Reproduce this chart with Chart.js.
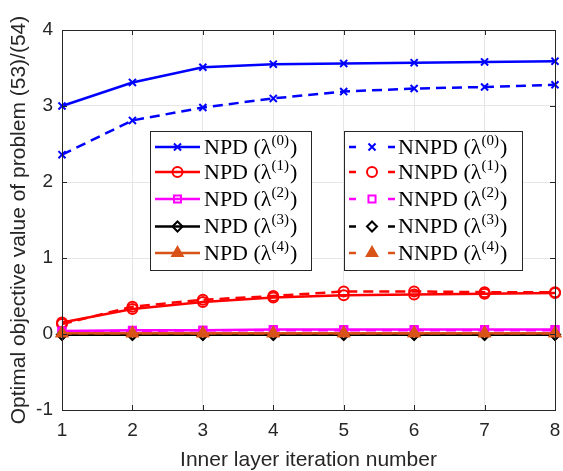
<!DOCTYPE html>
<html><head><meta charset="utf-8">
<script src="https://cdn.jsdelivr.net/npm/chart.js@4/dist/chart.umd.min.js"></script>
<style>html,body{margin:0;padding:0;background:#fff;}#wrap{width:563px;height:471px;}</style>
</head><body><div id="wrap"><canvas id="c" width="563" height="471"></canvas></div>
<script>
const categories = [1, 2, 3, 4, 5, 6, 7, 8];
const npd0  = [3.00, 3.31, 3.51, 3.55, 3.56, 3.57, 3.58, 3.59];
const nnpd0 = [2.36, 2.81, 2.98, 3.10, 3.19, 3.23, 3.25, 3.28];
const npd1  = [0.15, 0.33, 0.42, 0.48, 0.51, 0.52, 0.53, 0.54];
const nnpd1 = [0.13, 0.36, 0.45, 0.50, 0.56, 0.56, 0.55, 0.55];
const npd2  = [0.04, 0.05, 0.05, 0.06, 0.06, 0.06, 0.06, 0.06];
const nnpd2 = [0.03, 0.04, 0.05, 0.05, 0.05, 0.05, 0.05, 0.05];
const npd3  = [-0.01, -0.01, -0.01, -0.01, -0.01, -0.01, -0.01, -0.01];
const nnpd3 = [-0.01, -0.01, -0.01, -0.01, -0.01, -0.01, -0.01, -0.01];
const npd4  = [0.01, 0.01, 0.01, 0.01, 0.01, 0.01, 0.01, 0.01];
const nnpd4 = [0.01, 0.01, 0.01, 0.01, 0.01, 0.01, 0.01, 0.01];
const yTicks = [-1, 0, 1, 2, 3, 4];
const xTitle = 'Inner layer iteration number';
const yTitle = 'Optimal objective value of problem (53)/(54)';
const superscripts = ['(0)', '(1)', '(2)', '(3)', '(4)'];

const colors = ['#0000FF', '#FF0000', '#FF00FF', '#000000', '#D95319'];
const styles = ['crossRot', 'circle', 'rect', 'rectRot', 'triangle'];
const radii = [5, 5, 5, 5, 6];
const fills = ['#0000FF', 'rgba(0,0,0,0)', 'rgba(0,0,0,0)', 'rgba(0,0,0,0)', '#D95319'];
const npdSeries = [npd0, npd1, npd2, npd3, npd4];
const nnpdSeries = [nnpd0, nnpd1, nnpd2, nnpd3, nnpd4];
const DASH = [10, 6];
const SANS = '"Liberation Sans", Arial, Helvetica';

function mk(vals, i, dashed, order) {
  return {
    label: (dashed ? 'NNPD' : 'NPD') + ' (λ' + superscripts[i] + ')',
    data: categories.map((x, k) => ({x: x, y: vals[k]})),
    borderColor: colors[i], backgroundColor: fills[i],
    borderWidth: 2.5, borderDash: dashed ? DASH : [],
    pointStyle: styles[i], pointRadius: radii[i], pointBorderWidth: 2,
    pointBorderColor: colors[i], pointBackgroundColor: fills[i],
    tension: 0, clip: false, order: order
  };
}
const datasets = [];
let ord = 100;
for (let i = 0; i < 5; i++) {
  datasets.push(mk(npdSeries[i], i, false, ord--));
  datasets.push(mk(nnpdSeries[i], i, true, ord--));
}

const frame = {
  id: 'frame',
  afterDatasetsDraw(chart) {
    const {ctx, chartArea: a, scales} = chart;
    ctx.save();
    ctx.strokeStyle = '#262626'; ctx.lineWidth = 1;
    ctx.strokeRect(Math.round(a.left) + 0.5, Math.round(a.top) + 0.5, Math.round(a.right - a.left), Math.round(a.bottom - a.top));
    ctx.beginPath();
    categories.forEach(v => {
      const x = Math.round(scales.x.getPixelForValue(v)) + 0.5;
      ctx.moveTo(x, a.bottom); ctx.lineTo(x, a.bottom - 5);
      ctx.moveTo(x, a.top); ctx.lineTo(x, a.top + 5);
    });
    yTicks.forEach(v => {
      const y = Math.round(scales.y.getPixelForValue(v)) + 0.5;
      ctx.moveTo(a.left, y); ctx.lineTo(a.left + 5, y);
      ctx.moveTo(a.right, y); ctx.lineTo(a.right - 5, y);
    });
    ctx.stroke();
    // legends
    const boxes = [
      {x: 150, y: 131, w: 161, h: 139, dashed: false, name: 'NPD', lx0: 155, lx1: 200, tx: 204},
      {x: 344, y: 131, w: 178, h: 139, dashed: true, name: 'NNPD', lx0: 349, lx1: 395, tx: 398}
    ];
    const rowY = [147, 172, 199, 226.5, 253];
    boxes.forEach(b => {
      ctx.fillStyle = '#fff';
      ctx.fillRect(b.x, b.y, b.w, b.h);
      ctx.strokeStyle = '#262626'; ctx.lineWidth = 1;
      ctx.strokeRect(b.x + 0.5, b.y + 0.5, b.w, b.h);
      for (let i = 0; i < 5; i++) {
        const y = rowY[i];
        ctx.strokeStyle = colors[i]; ctx.lineWidth = 2.5;
        ctx.beginPath();
        if (b.dashed) {
          ctx.moveTo(b.lx0, y); ctx.lineTo(b.lx0 + 7, y);
          ctx.moveTo(b.lx1 - 7, y); ctx.lineTo(b.lx1, y);
        } else {
          ctx.moveTo(b.lx0, y); ctx.lineTo(b.lx1, y);
        }
        ctx.stroke();
        ctx.fillStyle = fills[i];
        ctx.strokeStyle = colors[i]; ctx.lineWidth = 2;
        Chart.helpers.drawPoint(ctx, {pointStyle: styles[i], radius: radii[i], borderWidth: 2, rotation: 0}, (b.lx0 + b.lx1) / 2, y);
        // text
        ctx.fillStyle = '#000';
        ctx.textBaseline = 'middle'; ctx.textAlign = 'left';
        ctx.font = '22px "Liberation Serif"';
        let x = b.tx;
        const t1 = b.name + ' (λ';
        ctx.fillText(t1, x, y + 1); x += ctx.measureText(t1).width;
        ctx.font = '15px "Liberation Serif"';
        ctx.fillText(superscripts[i], x, y - 6); x += ctx.measureText(superscripts[i]).width + 1;
        ctx.font = '22px "Liberation Serif"';
        ctx.fillText(')', x, y + 1);
      }
    });
    ctx.restore();
  }
};

new Chart(document.getElementById('c'), {
  type: 'line',
  data: {datasets: datasets},
  options: {
    responsive: false, animation: false, devicePixelRatio: 1,
    layout: {padding: {top: 30, right: 6, left: 0, bottom: 0}},
    plugins: {legend: {display: false}, tooltip: {enabled: false}},
    scales: {
      x: {
        type: 'linear', min: 1, max: 8,
        afterFit(s) { s.height = 61; s.paddingRight = 0; s.paddingLeft = 0; },
        grid: {color: '#e6e6e6', drawTicks: false, lineWidth: 1},
        border: {display: false},
        ticks: {stepSize: 1, padding: 9, color: '#262626', font: {family: SANS, size: 19}},
        title: {display: true, text: xTitle, color: '#262626', padding: {top: 0, bottom: -2}, font: {family: SANS, size: 21}}
      },
      y: {
        type: 'linear', min: -1, max: 4,
        afterFit(s) { s.width = 62; s.paddingTop = 0; s.paddingBottom = 0; },
        grid: {color: '#e6e6e6', drawTicks: false, lineWidth: 1},
        border: {display: false},
        ticks: {stepSize: 1, padding: 9, color: '#262626', font: {family: SANS, size: 19}},
        title: {display: true, text: yTitle, color: '#262626', padding: {top: 7, bottom: 0}, font: {family: SANS, size: 21}}
      }
    }
  },
  plugins: [frame]
});
</script></body></html>
